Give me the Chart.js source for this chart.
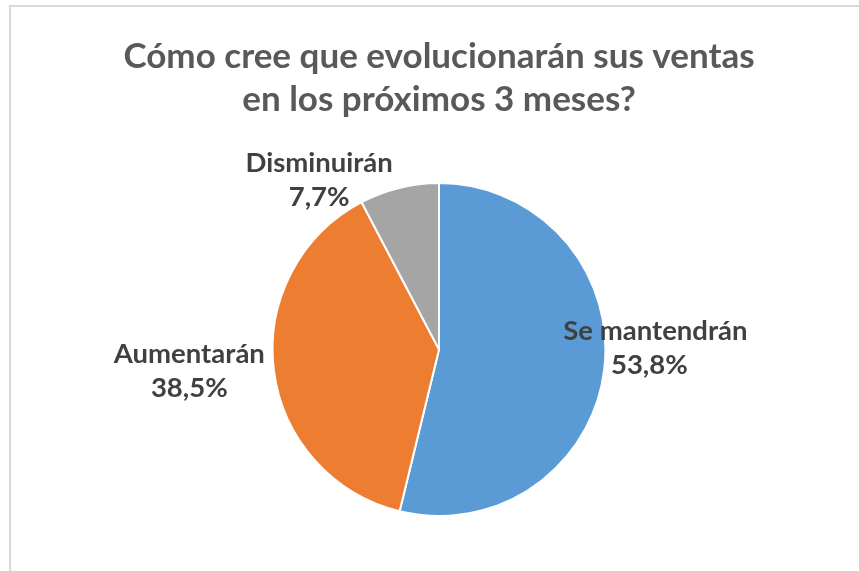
<!DOCTYPE html>
<html>
<head>
<meta charset="utf-8">
<script src="https://cdn.jsdelivr.net/npm/chart.js@4"></script>
<style>
    html, body { margin: 0; padding: 0; background: #fff; overflow: hidden; }
    #wrap { position: relative; width: 859px; height: 571px; }
    #frame {
        position: absolute; left: 9px; top: 5px; width: 900px; height: 600px;
        border-left: 2px solid #d9d9d9; border-top: 2px solid #d9d9d9;
    }
    #chart { position: absolute; left: 0; top: 0; }
</style>
</head>
<body>
<div id="wrap">
    <div id="frame"></div>
    <canvas id="chart" width="859" height="571"></canvas>
</div>
<script>
const titleLines = ['Cómo cree que evolucionarán sus ventas', 'en los próximos 3 meses?'];
const categories = ['Se mantendrán', 'Aumentarán', 'Disminuirán'];
const shares = [53.8, 38.5, 7.7];
const colors = ['#5b9bd5', '#ed7d31', '#a5a5a5'];

const FONT = 'Lato, "Open Sans", sans-serif';

// where each label's centre sits, as offset from pie centre in radius units
const labelSpots = [
    { dx: 1.30, dy: -0.01 },
    { dx: -1.50, dy: 0.13 },
    { dx: -0.72, dy: -1.02 }
];

const pieLabels = {
    id: 'pieLabels',
    afterDatasetsDraw(chart) {
        const ctx = chart.ctx;
        const meta = chart.getDatasetMeta(0);
        ctx.save();
        ctx.fillStyle = '#404040';
        ctx.textAlign = 'center';
        ctx.textBaseline = 'middle';
        ctx.font = 'bold 27.5px ' + FONT;
        meta.data.forEach((arc, i) => {
            const r = arc.outerRadius;
            const x = arc.x + labelSpots[i].dx * r;
            const y = arc.y + labelSpots[i].dy * r;
            const pct = shares[i].toFixed(1).replace('.', ',') + '%';
            ctx.fillText(categories[i], x, y - 17);
            ctx.fillText(pct, x - (i === 0 ? 6 : 0), y + 17);
        });
        ctx.restore();
    }
};

new Chart(document.getElementById('chart'), {
    type: 'pie',
    data: {
        labels: categories,
        datasets: [{
            data: shares,
            backgroundColor: colors,
            borderColor: '#ffffff',
            borderWidth: 2
        }]
    },
    options: {
        responsive: false,
        animation: false,
        layout: { padding: { top: 0, bottom: 54, left: 100, right: 81 } },
        plugins: {
            legend: { display: false },
            tooltip: { enabled: false },
            title: {
                display: true,
                text: titleLines,
                color: '#595959',
                font: { family: FONT, size: 35, weight: 'bold', lineHeight: 1.23 },
                padding: { top: 35, bottom: 61 }
            }
        }
    },
    plugins: [pieLabels]
});
</script>
</body>
</html>
